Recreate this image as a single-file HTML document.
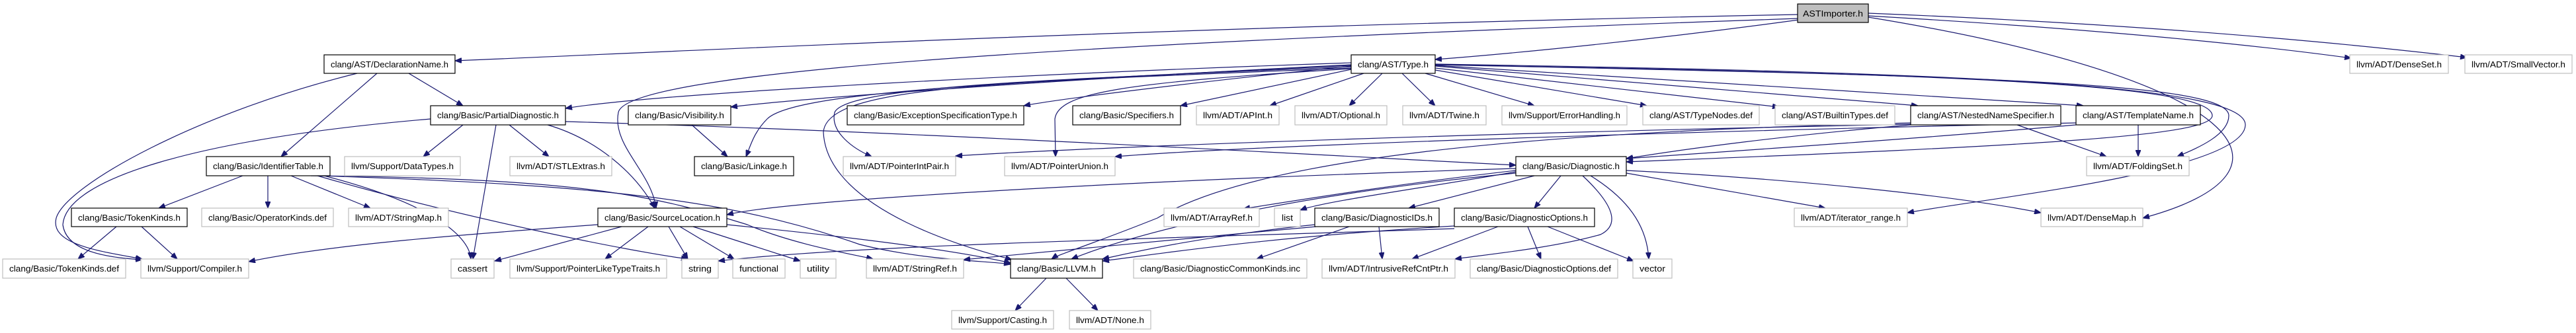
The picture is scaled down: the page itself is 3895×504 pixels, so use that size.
<!DOCTYPE html>
<html><head><meta charset="utf-8"><style>
html,body{margin:0;padding:0;background:#fff;}
svg{display:block;}
text{font-family:"Liberation Sans",sans-serif;font-size:13px;fill:#000;}
.e{fill:none;stroke:#191970;stroke-width:1.2;marker-end:url(#a);}
.b{fill:#fff;stroke:#000;stroke-width:1.2;}
.g{fill:#fff;stroke:#bfbfbf;stroke-width:1.2;}
</style></head><body>
<svg width="3895" height="504" viewBox="0 0 3895 504" xmlns="http://www.w3.org/2000/svg">
<defs><marker id="a" markerUnits="userSpaceOnUse" markerWidth="11" markerHeight="8" refX="10" refY="4" orient="auto"><path d="M0,0 L10,4 L0,8 z" fill="#191970" stroke="#191970"/></marker></defs>
<g>
<path class="e" d="M2718,22 C1800,40 1200,70 688,92"/>
<path class="e" d="M2720,30 C2500,60 2300,80 2170,90"/>
<path class="e" d="M2825,24 C3100,40 3350,60 3555,88"/>
<path class="e" d="M2825,20 C3200,35 3500,60 3730,87"/>
<path class="e" d="M2825,26 C3400,120 3500,260 3240,330"/>
<path class="e" d="M2718,28 C1800,60 950,100 935,170 C925,220 985,260 992,315"/>
<path class="e" d="M540,111 C300,170 100,280 85,330 C75,370 150,380 215,392"/>
<path class="e" d="M570,111 L425,237"/>
<path class="e" d="M618,111 L700,160"/>
<path class="e" d="M651,180 C300,210 100,270 95,340 C100,380 160,390 215,393"/>
<path class="e" d="M700,189 L640,237"/>
<path class="e" d="M770,189 L830,237"/>
<path class="e" d="M750,189 L715,392"/>
<path class="e" d="M828,189 C900,210 960,260 990,315"/>
<path class="e" d="M855,184 C1400,200 2000,235 2292,250"/>
<path class="e" d="M367,266 L240,315"/>
<path class="e" d="M405,266 L405,315"/>
<path class="e" d="M440,266 L560,315"/>
<path class="e" d="M490,266 C660,310 710,360 712,392"/>
<path class="e" d="M480,266 C700,330 950,380 1040,392"/>
<path class="e" d="M485,266 C900,280 1100,300 1300,370 C1400,395 1500,395 1528,400"/>
<path class="e" d="M470,266 C900,270 1000,300 1130,340 C1200,370 1290,385 1320,392"/>
<path class="e" d="M176,343 L118,392"/>
<path class="e" d="M214,343 L268,392"/>
<path class="e" d="M904,340 C700,355 500,370 376,396"/>
<path class="e" d="M940,343 L748,395"/>
<path class="e" d="M980,343 L915,392"/>
<path class="e" d="M1011,343 L1040,392"/>
<path class="e" d="M1028,343 L1110,392"/>
<path class="e" d="M1048,343 L1210,395"/>
<path class="e" d="M1099,340 C1300,360 1450,380 1528,398"/>
<path class="e" d="M1046,189 L1100,237"/>
<path class="e" d="M2043,95 C1600,110 1000,140 855,164"/>
<path class="e" d="M2043,98 C1600,120 1200,150 1105,162"/>
<path class="e" d="M2043,99 C1500,125 1200,140 1160,180 C1140,200 1135,220 1128,237"/>
<path class="e" d="M2043,100 C1800,125 1600,150 1548,160"/>
<path class="e" d="M2043,105 L1785,160"/>
<path class="e" d="M2062,111 L1920,160"/>
<path class="e" d="M2090,111 L2040,160"/>
<path class="e" d="M2120,111 L2170,160"/>
<path class="e" d="M2155,111 L2320,160"/>
<path class="e" d="M2170,106 L2490,160"/>
<path class="e" d="M2170,103 L2690,162"/>
<path class="e" d="M2170,100 L2900,160"/>
<path class="e" d="M2170,99 L3150,160"/>
<path class="e" d="M2170,98 C3000,115 3370,125 3370,175 C3370,205 3320,225 3292,237"/>
<path class="e" d="M2170,98 C3000,112 3345,130 3345,175 C3345,205 3100,220 2459,245"/>
<path class="e" d="M2170,97 C3000,110 3400,130 3395,190 C3390,260 3000,300 2884,322"/>
<path class="e" d="M2043,101 C1600,120 1280,130 1262,170 C1255,200 1290,225 1318,237"/>
<path class="e" d="M2043,104 C1700,125 1600,140 1595,180 L1596,237"/>
<path class="e" d="M2043,103 C1500,125 1250,130 1245,200 C1250,320 1480,380 1530,393"/>
<path class="e" d="M2889,188 C2300,200 1700,220 1445,236"/>
<path class="e" d="M3050,189 L3185,237"/>
<path class="e" d="M2889,189 C2700,205 2550,225 2459,240"/>
<path class="e" d="M2889,186 C2300,200 1900,240 1750,330 C1650,370 1600,385 1590,392"/>
<path class="e" d="M3233,189 L3233,237"/>
<path class="e" d="M3139,186 C2500,200 1900,220 1686,237"/>
<path class="e" d="M3139,189 C2900,210 2600,230 2459,240"/>
<path class="e" d="M2292,255 C1800,270 1200,300 1099,325"/>
<path class="e" d="M2292,258 C2100,280 1950,305 1880,316"/>
<path class="e" d="M2292,260 C2150,285 2000,305 1966,318"/>
<path class="e" d="M2320,266 L2130,315"/>
<path class="e" d="M2360,266 L2320,315"/>
<path class="e" d="M2393,266 C2440,310 2450,340 2420,355 C2350,375 2250,385 2200,392"/>
<path class="e" d="M2405,266 C2460,300 2490,340 2493,392"/>
<path class="e" d="M2459,262 L2760,315"/>
<path class="e" d="M2459,258 C2700,270 2950,295 3086,322"/>
<path class="e" d="M2292,262 C2000,290 1750,340 1620,392"/>
<path class="e" d="M1988,340 C1800,360 1700,385 1667,392"/>
<path class="e" d="M2040,343 L1900,392"/>
<path class="e" d="M2085,343 L2090,392"/>
<path class="e" d="M1990,343 C1800,360 1600,380 1457,393"/>
<path class="e" d="M2265,343 L2135,392"/>
<path class="e" d="M2310,343 L2330,392"/>
<path class="e" d="M2340,343 L2470,395"/>
<path class="e" d="M2199,342 C1900,360 1750,385 1667,395"/>
<path class="e" d="M2199,346 C1800,360 1300,370 1086,395"/>
<path class="e" d="M1582,421 L1535,470"/>
<path class="e" d="M1612,421 L1660,470"/>
</g>
<g>
<rect x="2718" y="6" width="107" height="28" fill="#bfbfbf" stroke="#000" stroke-width="1.2"/><text x="2771.5" y="25" text-anchor="middle" textLength="91" lengthAdjust="spacingAndGlyphs">ASTImporter.h</text>
<rect class="b" x="490" y="83" width="198" height="28"/><text x="589" y="102" text-anchor="middle" textLength="178" lengthAdjust="spacingAndGlyphs">clang/AST/DeclarationName.h</text>
<rect class="b" x="2043" y="83" width="127" height="28"/><text x="2106.5" y="102" text-anchor="middle" textLength="107" lengthAdjust="spacingAndGlyphs">clang/AST/Type.h</text>
<rect class="g" x="3553" y="83" width="149" height="28"/><text x="3627.5" y="102" text-anchor="middle" textLength="129" lengthAdjust="spacingAndGlyphs">llvm/ADT/DenseSet.h</text>
<rect class="g" x="3727" y="83" width="162" height="28"/><text x="3808" y="102" text-anchor="middle" textLength="142" lengthAdjust="spacingAndGlyphs">llvm/ADT/SmallVector.h</text>

<rect class="b" x="651" y="160" width="204" height="29"/><text x="753" y="179" text-anchor="middle" textLength="184" lengthAdjust="spacingAndGlyphs">clang/Basic/PartialDiagnostic.h</text>
<rect class="b" x="950" y="160" width="155" height="29"/><text x="1027.5" y="179" text-anchor="middle" textLength="135" lengthAdjust="spacingAndGlyphs">clang/Basic/Visibility.h</text>
<rect class="b" x="1281" y="160" width="267" height="29"/><text x="1414.5" y="179" text-anchor="middle" textLength="247" lengthAdjust="spacingAndGlyphs">clang/Basic/ExceptionSpecificationType.h</text>
<rect class="b" x="1622" y="160" width="163" height="29"/><text x="1703.5" y="179" text-anchor="middle" textLength="143" lengthAdjust="spacingAndGlyphs">clang/Basic/Specifiers.h</text>
<rect class="g" x="1809" y="160" width="125" height="29"/><text x="1871.5" y="179" text-anchor="middle" textLength="105" lengthAdjust="spacingAndGlyphs">llvm/ADT/APInt.h</text>
<rect class="g" x="1958" y="160" width="139" height="29"/><text x="2027.5" y="179" text-anchor="middle" textLength="119" lengthAdjust="spacingAndGlyphs">llvm/ADT/Optional.h</text>
<rect class="g" x="2121" y="160" width="126" height="29"/><text x="2184" y="179" text-anchor="middle" textLength="106" lengthAdjust="spacingAndGlyphs">llvm/ADT/Twine.h</text>
<rect class="g" x="2271" y="160" width="189" height="29"/><text x="2365.5" y="179" text-anchor="middle" textLength="169" lengthAdjust="spacingAndGlyphs">llvm/Support/ErrorHandling.h</text>
<rect class="g" x="2484" y="160" width="176" height="29"/><text x="2572" y="179" text-anchor="middle" textLength="156" lengthAdjust="spacingAndGlyphs">clang/AST/TypeNodes.def</text>
<rect class="g" x="2684" y="160" width="181" height="29"/><text x="2774.5" y="179" text-anchor="middle" textLength="161" lengthAdjust="spacingAndGlyphs">clang/AST/BuiltinTypes.def</text>
<rect class="b" x="2889" y="160" width="227" height="29"/><text x="3002.5" y="179" text-anchor="middle" textLength="207" lengthAdjust="spacingAndGlyphs">clang/AST/NestedNameSpecifier.h</text>
<rect class="b" x="3139" y="160" width="188" height="29"/><text x="3233" y="179" text-anchor="middle" textLength="168" lengthAdjust="spacingAndGlyphs">clang/AST/TemplateName.h</text>

<rect class="b" x="312" y="237" width="187" height="29"/><text x="405.5" y="256" text-anchor="middle" textLength="167" lengthAdjust="spacingAndGlyphs">clang/Basic/IdentifierTable.h</text>
<rect class="g" x="521" y="237" width="175" height="29"/><text x="608.5" y="256" text-anchor="middle" textLength="155" lengthAdjust="spacingAndGlyphs">llvm/Support/DataTypes.h</text>
<rect class="g" x="771" y="237" width="154" height="29"/><text x="848" y="256" text-anchor="middle" textLength="134" lengthAdjust="spacingAndGlyphs">llvm/ADT/STLExtras.h</text>
<rect class="b" x="1050" y="237" width="150" height="29"/><text x="1125" y="256" text-anchor="middle" textLength="130" lengthAdjust="spacingAndGlyphs">clang/Basic/Linkage.h</text>
<rect class="g" x="1275" y="237" width="170" height="29"/><text x="1360" y="256" text-anchor="middle" textLength="150" lengthAdjust="spacingAndGlyphs">llvm/ADT/PointerIntPair.h</text>
<rect class="g" x="1519" y="237" width="167" height="29"/><text x="1602.5" y="256" text-anchor="middle" textLength="147" lengthAdjust="spacingAndGlyphs">llvm/ADT/PointerUnion.h</text>
<rect class="b" x="2292" y="237" width="167" height="29"/><text x="2375.5" y="256" text-anchor="middle" textLength="147" lengthAdjust="spacingAndGlyphs">clang/Basic/Diagnostic.h</text>
<rect class="g" x="3155" y="237" width="155" height="29"/><text x="3232.5" y="256" text-anchor="middle" textLength="135" lengthAdjust="spacingAndGlyphs">llvm/ADT/FoldingSet.h</text>

<rect class="b" x="108" y="315" width="175" height="28"/><text x="195.5" y="334" text-anchor="middle" textLength="155" lengthAdjust="spacingAndGlyphs">clang/Basic/TokenKinds.h</text>
<rect class="g" x="305" y="315" width="199" height="28"/><text x="404.5" y="334" text-anchor="middle" textLength="179" lengthAdjust="spacingAndGlyphs">clang/Basic/OperatorKinds.def</text>
<rect class="g" x="527" y="315" width="151" height="28"/><text x="602.5" y="334" text-anchor="middle" textLength="131" lengthAdjust="spacingAndGlyphs">llvm/ADT/StringMap.h</text>
<rect class="b" x="904" y="315" width="195" height="28"/><text x="1001.5" y="334" text-anchor="middle" textLength="175" lengthAdjust="spacingAndGlyphs">clang/Basic/SourceLocation.h</text>
<rect class="g" x="1760" y="315" width="144" height="28"/><text x="1832" y="334" text-anchor="middle" textLength="124" lengthAdjust="spacingAndGlyphs">llvm/ADT/ArrayRef.h</text>
<rect class="g" x="1927" y="315" width="39" height="28"/><text x="1946.5" y="334" text-anchor="middle" textLength="17" lengthAdjust="spacingAndGlyphs">list</text>
<rect class="b" x="1988" y="315" width="188" height="28"/><text x="2082" y="334" text-anchor="middle" textLength="168" lengthAdjust="spacingAndGlyphs">clang/Basic/DiagnosticIDs.h</text>
<rect class="b" x="2199" y="315" width="212" height="28"/><text x="2305" y="334" text-anchor="middle" textLength="192" lengthAdjust="spacingAndGlyphs">clang/Basic/DiagnosticOptions.h</text>
<rect class="g" x="2713" y="315" width="171" height="28"/><text x="2798.5" y="334" text-anchor="middle" textLength="151" lengthAdjust="spacingAndGlyphs">llvm/ADT/iterator_range.h</text>
<rect class="g" x="3086" y="315" width="154" height="28"/><text x="3163" y="334" text-anchor="middle" textLength="134" lengthAdjust="spacingAndGlyphs">llvm/ADT/DenseMap.h</text>

<rect class="g" x="4" y="392" width="186" height="29"/><text x="97" y="411" text-anchor="middle" textLength="166" lengthAdjust="spacingAndGlyphs">clang/Basic/TokenKinds.def</text>
<rect class="g" x="213" y="392" width="163" height="29"/><text x="294.5" y="411" text-anchor="middle" textLength="143" lengthAdjust="spacingAndGlyphs">llvm/Support/Compiler.h</text>
<rect class="g" x="682" y="392" width="65" height="29"/><text x="714.5" y="411" text-anchor="middle" textLength="45" lengthAdjust="spacingAndGlyphs">cassert</text>
<rect class="g" x="771" y="392" width="237" height="29"/><text x="889.5" y="411" text-anchor="middle" textLength="217" lengthAdjust="spacingAndGlyphs">llvm/Support/PointerLikeTypeTraits.h</text>
<rect class="g" x="1031" y="392" width="55" height="29"/><text x="1058.5" y="411" text-anchor="middle" textLength="35" lengthAdjust="spacingAndGlyphs">string</text>
<rect class="g" x="1108" y="392" width="79" height="29"/><text x="1147.5" y="411" text-anchor="middle" textLength="59" lengthAdjust="spacingAndGlyphs">functional</text>
<rect class="g" x="1210" y="392" width="54" height="29"/><text x="1237" y="411" text-anchor="middle" textLength="34" lengthAdjust="spacingAndGlyphs">utility</text>
<rect class="g" x="1310" y="392" width="147" height="29"/><text x="1383.5" y="411" text-anchor="middle" textLength="127" lengthAdjust="spacingAndGlyphs">llvm/ADT/StringRef.h</text>
<rect class="b" x="1528" y="392" width="139" height="29"/><text x="1597.5" y="411" text-anchor="middle" textLength="119" lengthAdjust="spacingAndGlyphs">clang/Basic/LLVM.h</text>
<rect class="g" x="1714" y="392" width="262" height="29"/><text x="1845" y="411" text-anchor="middle" textLength="242" lengthAdjust="spacingAndGlyphs">clang/Basic/DiagnosticCommonKinds.inc</text>
<rect class="g" x="1999" y="392" width="201" height="29"/><text x="2099.5" y="411" text-anchor="middle" textLength="181" lengthAdjust="spacingAndGlyphs">llvm/ADT/IntrusiveRefCntPtr.h</text>
<rect class="g" x="2223" y="392" width="223" height="29"/><text x="2334.5" y="411" text-anchor="middle" textLength="203" lengthAdjust="spacingAndGlyphs">clang/Basic/DiagnosticOptions.def</text>
<rect class="g" x="2469" y="392" width="59" height="29"/><text x="2498.5" y="411" text-anchor="middle" textLength="39" lengthAdjust="spacingAndGlyphs">vector</text>

<rect class="g" x="1439" y="470" width="154" height="28"/><text x="1516" y="489" text-anchor="middle" textLength="134" lengthAdjust="spacingAndGlyphs">llvm/Support/Casting.h</text>
<rect class="g" x="1617" y="470" width="123" height="28"/><text x="1678.5" y="489" text-anchor="middle" textLength="103" lengthAdjust="spacingAndGlyphs">llvm/ADT/None.h</text>
</g>
</svg>
</body></html>
